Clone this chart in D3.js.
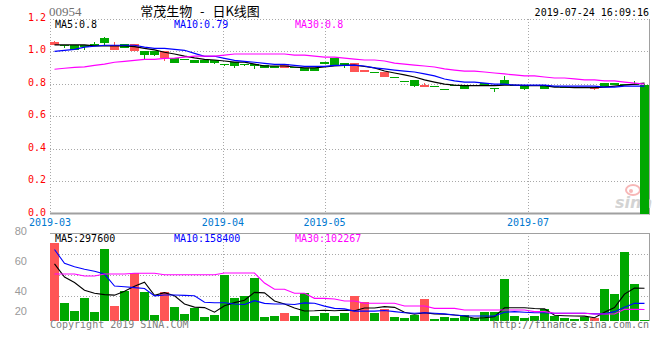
<!DOCTYPE html>
<html><head><meta charset="utf-8">
<script src="https://cdn.jsdelivr.net/npm/d3@7"></script>
<style>body{margin:0;background:#fff}svg{display:block}</style>
</head><body><svg id="c" width="660" height="360"></svg>
<script>
// ---------- data ----------
const stockCode = "00954";
const titleText = "常茂生物 - 日K线图";
const timestamp = "2019-07-24 16:09:16";
const tickLabels = ["2019-03", "2019-04", "2019-05", "2019-07"];
const tickIndex = [0, 17, 27, 47];
const priceTicks = [0.0, 0.2, 0.4, 0.6, 0.8, 1.0, 1.2];
const volTicks = [80, 60, 40, 20];
const priceLegend = ["MA5:0.8", "MA10:0.79", "MA30:0.8"];
const volLegend = ["MA5:297600", "MA10:158400", "MA30:102267"];
const copyrightText = "Copyright 2019 SINA.COM";
const urlText = "http://finance.sina.com.cn";

const open = [1.04,1.04,1.04,1.04,1.045,1.08,1.01,1.045,1.00,1.00,
              1.00,0.96,0.96,0.955,0.95,0.95,0.95,0.925,0.935,0.925,
              0.92,0.915,0.91,0.90,0.905,0.90,0.90,0.935,0.96,0.93,
              0.87,0.87,0.87,0.845,0.845,0.82,0.825,0.78,0.785,0.77,
              0.795,0.785,0.79,0.805,0.775,0.825,0.79,0.785,0.79,0.795,
              0.785,0.78,0.78,0.78,0.77,0.805,0.805,0.80,0.80,0.79];
const high = [1.065,1.04,1.04,1.04,1.06,1.09,1.06,1.045,1.045,1.00,
              1.00,1.00,0.96,0.955,0.95,0.95,0.95,0.925,0.935,0.925,
              0.92,0.915,0.91,0.92,0.905,0.90,0.90,0.935,0.96,0.93,
              0.93,0.885,0.87,0.875,0.845,0.82,0.825,0.805,0.785,0.77,
              0.795,0.785,0.79,0.805,0.775,0.85,0.79,0.785,0.79,0.795,
              0.785,0.78,0.78,0.78,0.78,0.805,0.805,0.80,0.815,0.80];
const low  = [1.04,1.02,1.01,1.01,1.035,1.04,1.01,1.02,1.00,0.95,
              0.97,0.94,0.93,0.955,0.93,0.93,0.92,0.91,0.90,0.91,
              0.89,0.90,0.90,0.90,0.905,0.88,0.88,0.92,0.91,0.90,
              0.87,0.87,0.87,0.845,0.845,0.82,0.78,0.78,0.785,0.77,
              0.795,0.77,0.79,0.795,0.75,0.795,0.785,0.76,0.79,0.77,
              0.785,0.78,0.78,0.78,0.76,0.78,0.79,0.80,0.80,0.0];
const close = [1.06,1.04,1.01,1.03,1.035,1.055,1.04,1.02,1.045,0.98,
               0.98,1.00,0.93,0.955,0.93,0.93,0.93,0.925,0.91,0.925,
               0.91,0.90,0.90,0.92,0.905,0.88,0.88,0.92,0.91,0.915,
               0.93,0.885,0.87,0.875,0.845,0.82,0.785,0.795,0.785,0.77,
               0.795,0.77,0.79,0.795,0.775,0.795,0.785,0.77,0.79,0.77,
               0.785,0.78,0.78,0.78,0.78,0.78,0.79,0.80,0.80,0.0];

const ma5 = [1.040,1.040,1.040,1.040,1.034,1.034,1.034,1.034,1.029,1.019,
             1.009,0.995,0.984,0.971,0.960,0.951,0.947,0.941,0.934,0.934,
             0.922,0.910,0.910,0.910,0.904,0.898,0.898,0.904,0.910,0.914,
             0.916,0.907,0.898,0.879,0.867,0.855,0.842,0.824,0.811,0.798,
             0.792,0.789,0.789,0.789,0.789,0.792,0.792,0.789,0.789,0.789,
             0.780,0.780,0.777,0.777,0.777,0.780,0.786,0.792,0.798,0.804];
const ma10 = [1.000,1.007,1.013,1.026,1.032,1.038,1.038,1.038,1.038,1.026,
              1.019,1.019,1.013,1.007,0.988,0.970,0.970,0.957,0.945,0.939,
              0.933,0.926,0.920,0.920,0.914,0.908,0.908,0.908,0.914,0.914,
              0.916,0.910,0.898,0.892,0.885,0.879,0.873,0.861,0.849,0.830,
              0.818,0.811,0.811,0.804,0.798,0.798,0.792,0.792,0.792,0.792,
              0.786,0.786,0.786,0.786,0.786,0.780,0.780,0.786,0.786,0.786];
const ma30 = [0.890,0.896,0.902,0.905,0.914,0.922,0.933,0.939,0.945,0.951,
              0.951,0.957,0.959,0.965,0.971,0.971,0.971,0.977,0.984,0.984,
              0.984,0.984,0.984,0.984,0.977,0.977,0.971,0.965,0.965,0.959,
              0.953,0.947,0.947,0.941,0.928,0.922,0.916,0.910,0.904,0.892,
              0.885,0.879,0.879,0.873,0.867,0.861,0.855,0.849,0.849,0.842,
              0.836,0.836,0.830,0.824,0.824,0.818,0.818,0.811,0.804,0.798];

// volume in units of 10,000 shares
const volume = [71.2,16.4,9.1,20.9,8.2,65.5,13.6,27.3,43.6,26.4,
                5.5,26.4,12.7,6.4,11.8,3.6,5.5,41.8,20.9,22.7,
                39.1,3.6,4.5,7.3,4.5,25.5,4.5,7.3,4.5,7.3,
                22.7,17.3,7.3,10.9,3.6,2.7,5.5,20.0,1.8,3.6,
                2.7,5.5,2.7,8.2,8.2,38.2,4.5,2.7,4.5,10.9,
                4.5,2.7,1.8,3.6,2.7,29.1,24.5,62.7,33.6,0.9];
const volMa5 = [52,40,35,28,25.2,24.0,23.5,27.1,31.6,35.3,
                23.3,25.8,22.9,15.5,12.6,12.2,8.0,13.8,16.7,18.9,
                26.0,25.6,18.2,15.4,11.8,9.1,9.3,9.8,9.3,9.8,
                9.3,11.8,11.8,13.1,12.4,8.0,6.2,7.5,6.5,6.2,
                5.5,4.5,2.5,3.0,4.0,12.0,12.0,12.0,11.3,11.0,
                5.2,4.8,4.6,4.4,3.0,8.0,12.3,24.5,30.0,29.8];
const volMa10 = [65,52.4,49.4,47.0,45.2,42.7,31.8,31.2,30.3,29.5,
                 22.8,23.6,23.6,23.3,23.0,17.0,16.6,16.6,15.5,15.0,
                 18.5,16.0,15.5,15.5,15.0,16.5,16.2,13.5,11.5,11.0,
                 9.0,9.0,9.0,9.5,8.5,7.5,7.0,7.5,7.0,6.5,
                 5.5,4.8,4.5,4.5,4.5,8.0,8.5,8.0,7.5,7.5,
                 7.0,7.0,7.0,7.0,6.5,6.5,8.5,12.5,16.1,16.0];
const volMa30 = [42.7,42.7,42.7,40.9,40.9,42.7,42.7,42.7,43.4,43.4,
                 43.4,42.1,42.1,42.1,42.1,42.1,42.1,43.6,43.6,43.6,
                 43.6,34.5,28.8,28.8,25.2,25.2,20.6,20.6,20.0,18.2,
                 18.2,16.1,16.1,16.1,16.1,13.6,13.6,13.6,11.5,11.5,
                 11.5,10.0,10.0,10.0,10.0,10.0,10.0,10.0,8.5,8.5,
                 7.0,7.0,7.0,7.0,6.4,6.4,6.4,10.6,10.6,10.4];

// ---------- layout ----------
const L = 50, R = 650;
const n = close.length;
const idx = d3.range(n);

const svg = d3.select("#c");
const mono = "DejaVu Sans Mono, Liberation Mono, monospace";
const UP = "#ff5555", DOWN = "#00a800";
const GRID = "#a8a8a8", BORDER = "#a0a0a0";

const xB = d3.scaleBand().domain(idx).range([L - 0.5, R - 0.5]).paddingInner(0.1).paddingOuter(0.05);
const cx = i => xB(i) + xB.bandwidth() / 2;
const xT = d3.scaleLinear().domain([0, n - 1]).range([L, R]);

const yP = d3.scaleLinear().domain([0, 1.2]).range([213.5, 19]);
const yV = d3.scaleLinear().domain([0, 80]).range([321, 233]);
const yVgrid = d3.scaleLinear().domain([0, 4]).range([316.5, 233.5]);

const isUp = i => close[i] > open[i];

// ---------- header ----------
svg.append("text").attr("x", 49).attr("y", 16)
  .attr("font-family", "Liberation Serif, serif").attr("font-size", 13)
  .attr("fill", "#707070").text(stockCode);
svg.append("text").attr("x", 200).attr("y", 16).attr("text-anchor", "middle")
  .attr("font-family", "Noto Sans CJK SC, sans-serif").attr("font-size", 13)
  .attr("word-spacing", 5).attr("fill", "#000").text(titleText);
svg.append("text").attr("x", 649).attr("y", 15.5).attr("text-anchor", "end")
  .attr("font-family", mono).attr("font-size", 10).attr("fill", "#000").text(timestamp);

// ---------- price panel grid ----------
const gP = svg.append("g");
gP.selectAll("line.h").data(priceTicks.filter(t => t > 0)).join("line")
  .attr("x1", L).attr("x2", R).attr("y1", d => Math.round(yP(d)) + 0.5).attr("y2", d => Math.round(yP(d)) + 0.5)
  .attr("stroke", GRID).attr("stroke-dasharray", "1,2");
gP.append("line").attr("x1", L + 0.5).attr("x2", L + 0.5).attr("y1", yP(1.2)).attr("y2", yP(0))
  .attr("stroke", GRID).attr("stroke-dasharray", "1,2");
gP.selectAll("line.v").data(tickIndex.filter(t => t > 0)).join("line")
  .attr("x1", d => Math.round(xT(d)) + 0.5).attr("x2", d => Math.round(xT(d)) + 0.5)
  .attr("y1", yP(1.2)).attr("y2", yP(0))
  .attr("stroke", GRID).attr("stroke-dasharray", "1,2");
gP.append("line").attr("x1", R - 0.5).attr("x2", R - 0.5).attr("y1", yP(1.2)).attr("y2", yP(0) + 1)
  .attr("stroke", BORDER);
gP.append("line").attr("x1", L).attr("x2", R).attr("y1", yP(0)).attr("y2", yP(0))
  .attr("stroke", BORDER).attr("stroke-width", 2);

// price tick labels
svg.selectAll("text.py").data(priceTicks).join("text")
  .attr("x", 46).attr("y", d => yP(d) + 2).attr("text-anchor", "end")
  .attr("font-family", mono).attr("font-size", 10).attr("fill", "#ff0000")
  .text(d => d.toFixed(1));

// date tick labels
svg.selectAll("text.dx").data(tickIndex).join("text")
  .attr("x", d => xT(d)).attr("y", 225.5).attr("text-anchor", "middle")
  .attr("font-family", mono).attr("font-size", 10).attr("fill", "#0078d0")
  .text((d, i) => tickLabels[i]);

// sina watermark
const wm = svg.append("g").attr("opacity", 0.9);
wm.append("ellipse").attr("cx", 633).attr("cy", 190).attr("rx", 7).attr("ry", 5)
  .attr("fill", "none").attr("stroke", "#f7b0b0").attr("stroke-width", 2);
wm.append("circle").attr("cx", 631).attr("cy", 191).attr("r", 2).attr("fill", "#f7b0b0");
wm.append("text").attr("x", 615).attr("y", 208).attr("font-family", "DejaVu Sans, sans-serif")
  .attr("font-size", 16).attr("font-style", "italic").attr("font-weight", "bold")
  .attr("fill", "#cfcfcf").text("sina");

// ---------- candles ----------
const gC = svg.append("g").attr("shape-rendering", "crispEdges");
gC.selectAll("line.w").data(idx).join("line")
  .attr("x1", i => Math.floor(cx(i)) + 0.5).attr("x2", i => Math.floor(cx(i)) + 0.5)
  .attr("y1", i => yP(high[i])).attr("y2", i => yP(low[i]))
  .attr("stroke", i => isUp(i) ? UP : DOWN);
gC.selectAll("rect.b").data(idx).join("rect")
  .attr("x", i => xB(i)).attr("width", xB.bandwidth())
  .attr("y", i => yP(Math.max(open[i], close[i])))
  .attr("height", i => Math.max(1, Math.abs(yP(open[i]) - yP(close[i]))))
  .attr("fill", i => isUp(i) ? UP : DOWN);

// price MA lines
const lineP = d3.line().x((d, i) => cx(i)).y(d => yP(d));
[[ma5, "#000000"], [ma10, "#0000ff"], [ma30, "#ff00ff"]].forEach(([arr, col]) => {
  svg.append("path").attr("d", lineP(arr)).attr("fill", "none")
    .attr("stroke", col).attr("stroke-width", 1.2);
});

// price legend
const legX = [55, 174, 295];
const legCol = ["#000000", "#0000ff", "#ff00ff"];
svg.selectAll("text.pl").data(priceLegend).join("text")
  .attr("x", (d, i) => legX[i]).attr("y", 27.5)
  .attr("font-family", mono).attr("font-size", 10).attr("fill", (d, i) => legCol[i]).text(d => d);

// ---------- volume panel ----------
const gV = svg.append("g");
gV.selectAll("line.vh").data([1, 2, 3]).join("line")
  .attr("x1", L).attr("x2", R).attr("y1", d => Math.round(yVgrid(d)) + 0.5).attr("y2", d => Math.round(yVgrid(d)) + 0.5)
  .attr("stroke", GRID).attr("stroke-dasharray", "1,2");
gV.selectAll("line.vv").data(tickIndex.filter(t => t > 0)).join("line")
  .attr("x1", d => Math.round(xT(d)) + 0.5).attr("x2", d => Math.round(xT(d)) + 0.5)
  .attr("y1", yV(80)).attr("y2", yV(0))
  .attr("stroke", GRID).attr("stroke-dasharray", "1,2");
gV.append("line").attr("x1", L).attr("x2", R).attr("y1", yV(80) + 0.5).attr("y2", yV(80) + 0.5)
  .attr("stroke", BORDER);
gV.append("line").attr("x1", R - 0.5).attr("x2", R - 0.5).attr("y1", yV(80)).attr("y2", yV(0))
  .attr("stroke", BORDER);

svg.selectAll("text.vy").data(volTicks).join("text")
  .attr("x", 27).attr("y", (d, k) => Math.min(231 + 30 * k, 311) + 4).attr("text-anchor", "end")
  .attr("font-family", "Liberation Sans, Arial, sans-serif").attr("font-size", 11).attr("fill", "#9a9a9a")
  .text(d => d);

svg.append("g").attr("shape-rendering", "crispEdges")
  .selectAll("rect").data(idx).join("rect")
  .attr("x", i => xB(i)).attr("width", xB.bandwidth())
  .attr("y", i => yV(volume[i])).attr("height", i => yV(0) - yV(volume[i]))
  .attr("fill", i => isUp(i) ? UP : DOWN);

const lineV = d3.line().x((d, i) => cx(i)).y(d => yV(d));
[[volMa5, "#000000"], [volMa10, "#0000ff"], [volMa30, "#ff00ff"]].forEach(([arr, col]) => {
  svg.append("path").attr("d", lineV(arr)).attr("fill", "none")
    .attr("stroke", col).attr("stroke-width", 1.1);
});

svg.selectAll("text.vl").data(volLegend).join("text")
  .attr("x", (d, i) => legX[i]).attr("y", 241.5)
  .attr("font-family", mono).attr("font-size", 10).attr("fill", (d, i) => legCol[i]).text(d => d);

// footer
svg.append("text").attr("x", 50).attr("y", 327.5)
  .attr("font-family", mono).attr("font-size", 10).attr("fill", "#808080").text(copyrightText);
svg.append("text").attr("x", 649).attr("y", 327.5).attr("text-anchor", "end")
  .attr("font-family", mono).attr("font-size", 10).attr("fill", "#707070").text(urlText);
</script></body></html>
